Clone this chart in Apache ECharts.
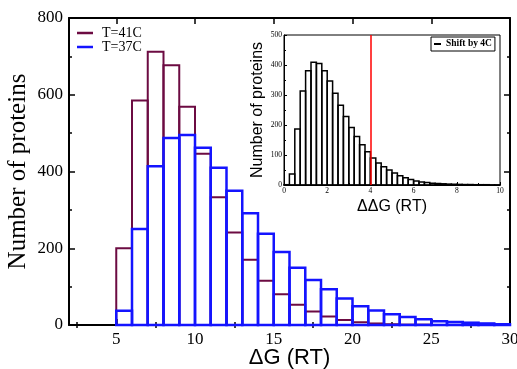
<!DOCTYPE html>
<html>
<head>
<meta charset="utf-8">
<script src="https://cdn.jsdelivr.net/npm/echarts@6/dist/echarts.min.js"></script>
<style>html,body{margin:0;padding:0;background:#fff;}#c{width:517px;height:369px;}</style>
</head>
<body>
<div id="c"></div>
<script>
// Main histogram: left edges of 1-RT-wide bins
const mainBins = [5,6,7,8,9,10,11,12,13,14,15,16,17,18,19,20,21,22,23,24,25,26,27,28,29];
const t41Counts = [200,585,712,677,569,446,333,241,170,115,80,53,35,22,13,7,4,2,1,1,0,0,0,0,0];
const t37Counts = [37,250,414,487,495,462,410,350,291,238,190,149,117,93,69,49,38,28,21,15,10,8,6,4,2];
const mainBinWidth = 1;
// Inset histogram: left edges of 0.25-RT-wide bins
const insetBins = [0,0.25,0.5,0.75,1,1.25,1.5,1.75,2,2.25,2.5,2.75,3,3.25,3.5,3.75,4,4.25,4.5,4.75,
                   5,5.25,5.5,5.75,6,6.25,6.5,6.75,7,7.25,7.5,7.75,8,8.25,8.5,8.75,9,9.25,9.5,9.75];
const insetCounts = [1,37,187,313,381,409,405,381,347,306,266,228,192,162,134,111,90,73,61,50,
                     40,31,24,18,13,10,8,6,5,4,3,2.5,2,1.5,1.5,1,1,1,0.5,0.5];
const insetBinWidth = 0.25;
const shiftLine = 4;
const mainXTicks = [5,10,15,20,25,30];
const mainXMinor = [2.5,7.5,12.5,17.5,22.5,27.5];

const MAROON = '#6c0b42', BLUE = '#1414ff';
const SERIF = 'Liberation Serif', SANS = 'Liberation Sans';

function toRows(edges, counts, w){ return edges.map((e,i)=>[e, e+w, counts[i]]); }
function hist(color, lw){
  return function(params, api){
    const a = api.coord([api.value(0), api.value(2)]);
    const b = api.coord([api.value(1), 0]);
    return {type:'rect', shape:{x:a[0], y:a[1], width:b[0]-a[0], height:b[1]-a[1]},
            style:{fill:null, stroke:color, lineWidth:lw}};
  };
}
const tickIn = (len)=>({show:true, inside:true, length:len, lineStyle:{color:'#000', width:1.5}});

const chart = echarts.init(document.getElementById('c'), null, {renderer:'canvas'});
chart.setOption({
  animation:false,
  backgroundColor:'#fff',
  legend:[
    {left:77, top:26, orient:'vertical', padding:0, itemGap:0, itemWidth:16, itemHeight:2.5,
     textStyle:{fontFamily:SERIF, fontSize:14, color:'#000', padding:[0,0,0,4]},
     data:[{name:'T=41C', icon:'rect', itemStyle:{color:MAROON}},{name:'T=37C', icon:'rect', itemStyle:{color:BLUE}}]},
    {left:431, top:37, padding:[2,3,2,3], itemWidth:7, itemHeight:2, borderColor:'#000', borderWidth:1,
     backgroundColor:'#fff',
     textStyle:{fontFamily:SERIF, fontSize:9.5, fontWeight:'bold', color:'#000', padding:[0,0,0,0]},
     data:[{name:'Shift by 4C', icon:'rect', itemStyle:{color:'#000'}}]}
  ],
  grid:[
    {left:69, right:7, top:18, bottom:44, outerBoundsMode:'none', containLabel:false},
    {left:284, right:17, top:35, bottom:184, outerBoundsMode:'none', containLabel:false,
     show:true, backgroundColor:'#fff', borderColor:'#000', borderWidth:1}
  ],
  xAxis:[
    {gridIndex:0, type:'value', min:2, max:30, position:'bottom',
     axisLine:{show:true, onZero:false, lineStyle:{color:'#000', width:2}},
     axisTick:Object.assign(tickIn(6), {customValues:mainXTicks}),
     axisLabel:{customValues:mainXTicks, margin:6, fontFamily:SERIF, fontSize:17, color:'#000'},
     splitLine:{show:false},
     name:'ΔG (RT)', nameLocation:'middle', nameGap:22, nameMoveOverlap:false,
     nameTextStyle:{fontFamily:SANS, fontSize:22, color:'#000', verticalAlign:'top'}},
    {gridIndex:0, type:'value', min:2, max:30, position:'bottom',
     axisLine:{show:false}, axisTick:Object.assign(tickIn(3), {customValues:mainXMinor}),
     axisLabel:{show:false}, splitLine:{show:false}},
    {gridIndex:0, type:'value', min:2, max:30, position:'top',
     axisLine:{show:true, onZero:false, lineStyle:{color:'#000', width:2}},
     axisTick:Object.assign(tickIn(6), {customValues:mainXTicks}),
     axisLabel:{show:false}, splitLine:{show:false}},
    {gridIndex:0, type:'value', min:2, max:30, position:'top',
     axisLine:{show:false}, axisTick:Object.assign(tickIn(3), {customValues:mainXMinor}),
     axisLabel:{show:false}, splitLine:{show:false}},
    {gridIndex:1, type:'value', min:0, max:10, interval:2, position:'bottom',
     axisLine:{show:true, onZero:false, lineStyle:{color:'#000', width:1}},
     axisTick:{show:true, inside:true, length:3, lineStyle:{color:'#000', width:1}},
     minorTick:{show:true, splitNumber:2, length:2, lineStyle:{color:'#000', width:1}},
     axisLabel:{margin:2, fontFamily:SERIF, fontSize:7.5, color:'#000'},
     splitLine:{show:false}, minorSplitLine:{show:false},
     name:'ΔΔG (RT)', nameLocation:'middle', nameGap:14, nameMoveOverlap:false,
     nameTextStyle:{fontFamily:SANS, fontSize:16, color:'#000'}}
  ],
  yAxis:[
    {gridIndex:0, type:'value', min:0, max:800, interval:200, position:'left',
     axisLine:{show:true, onZero:false, lineStyle:{color:'#000', width:2}},
     axisTick:tickIn(6),
     minorTick:{show:true, splitNumber:2, length:3, lineStyle:{color:'#000', width:1.5}},
     axisLabel:{margin:6, fontFamily:SERIF, fontSize:17, color:'#000'},
     splitLine:{show:false}, minorSplitLine:{show:false},
     name:'Number of proteins', nameLocation:'middle', nameGap:38, nameRotate:90, nameMoveOverlap:false,
     nameTextStyle:{fontFamily:SERIF, fontSize:25, color:'#000'}},
    {gridIndex:0, type:'value', min:0, max:800, interval:200, position:'right',
     axisLine:{show:true, onZero:false, lineStyle:{color:'#000', width:2}},
     axisTick:tickIn(6),
     minorTick:{show:true, splitNumber:2, length:3, lineStyle:{color:'#000', width:1.5}},
     axisLabel:{show:false}, splitLine:{show:false}, minorSplitLine:{show:false}},
    {gridIndex:1, type:'value', min:0, max:500, interval:100, position:'left',
     axisLine:{show:true, onZero:false, lineStyle:{color:'#000', width:1}},
     axisTick:{show:true, inside:true, length:3, lineStyle:{color:'#000', width:1}},
     minorTick:{show:true, splitNumber:2, length:2, lineStyle:{color:'#000', width:1}},
     axisLabel:{margin:2, fontFamily:SERIF, fontSize:7.5, color:'#000'},
     splitLine:{show:false}, minorSplitLine:{show:false},
     name:'Number of proteins', nameLocation:'middle', nameGap:18, nameRotate:90, nameMoveOverlap:false,
     nameTextStyle:{fontFamily:SANS, fontSize:16, color:'#000'}}
  ],
  series:[
    {name:'T=41C', type:'custom', xAxisIndex:0, yAxisIndex:0, itemStyle:{color:MAROON},
     encode:{x:[0,1], y:2}, renderItem:hist(MAROON, 2), data:toRows(mainBins, t41Counts, mainBinWidth), z:2},
    {name:'T=37C', type:'custom', xAxisIndex:0, yAxisIndex:0, itemStyle:{color:BLUE},
     encode:{x:[0,1], y:2}, renderItem:hist(BLUE, 2.5), data:toRows(mainBins, t37Counts, mainBinWidth), z:3},
    {name:'Shift by 4C', type:'custom', xAxisIndex:4, yAxisIndex:2, itemStyle:{color:'#000'},
     encode:{x:[0,1], y:2}, renderItem:hist('#000', 1.5), data:toRows(insetBins, insetCounts, insetBinWidth), z:4,
     markLine:{silent:true, symbol:'none', label:{show:false}, animation:false,
               lineStyle:{color:'#ff0000', width:1.5, type:'solid'}, data:[{xAxis:shiftLine}]}}
  ]
});
</script>
</body>
</html>
